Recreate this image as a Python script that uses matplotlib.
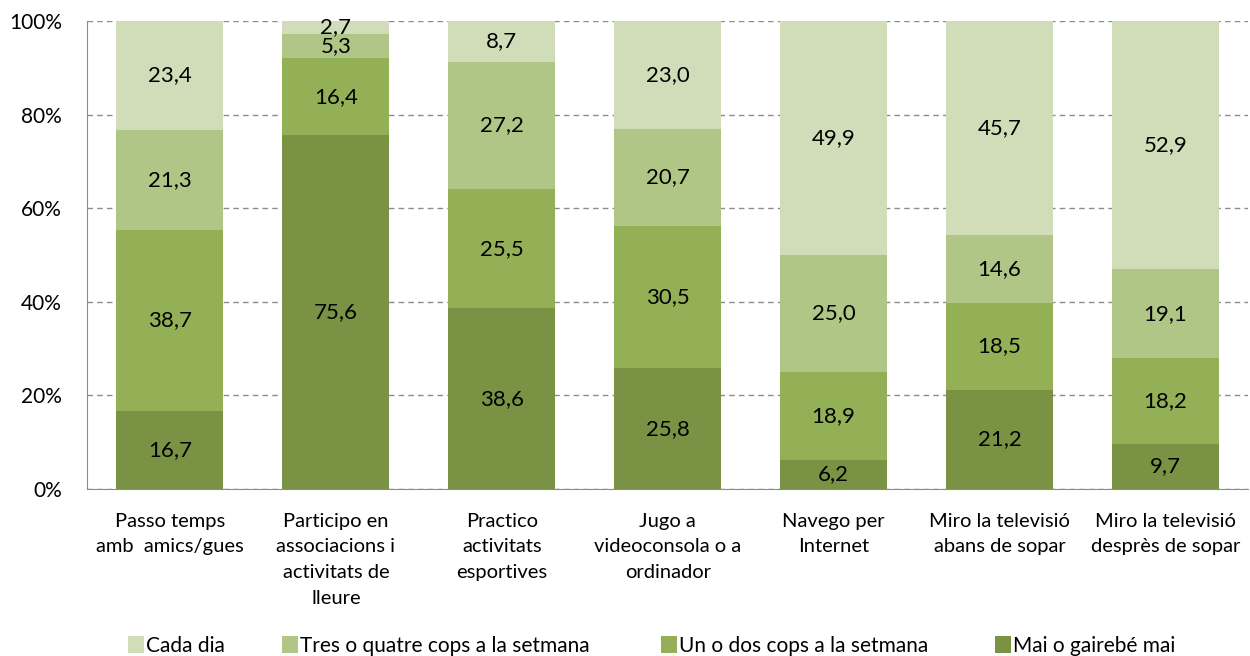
import matplotlib
matplotlib.use("Agg")
import matplotlib.pyplot as plt
import numpy as np

categories = ["Passo temps\namb  amics/gues",
              "Participo en\nassociacions i\nactivitats de\nlleure",
              "Practico\nactivitats\nesportives",
              "Jugo a\nvideoconsola o a\nordinador",
              "Navego per\nInternet",
              "Miro la televisió\nabans de sopar",
              "Miro la televisió\ndesprès de sopar"]

# stacked bottom -> top
mai = [16.7, 75.6, 38.6, 25.8, 6.2, 21.2, 9.7]
un_dos = [38.7, 16.4, 25.5, 30.5, 18.9, 18.5, 18.2]
tres_quatre = [21.3, 5.3, 27.2, 20.7, 25.0, 14.6, 19.1]
cada_dia = [23.4, 2.7, 8.7, 23.0, 49.9, 45.7, 52.9]

series = [("Mai o gairebé mai", mai, "#7a9244"),
          ("Un o dos cops a la setmana", un_dos, "#93b056"),
          ("Tres o quatre cops a la setmana", tres_quatre, "#afc686"),
          ("Cada dia", cada_dia, "#d0ddb8")]

plt.rcParams["font.family"] = ["Lato", "DejaVu Sans"]
plt.rcParams["font.size"] = 15

fig = plt.figure(figsize=(12.5, 6.56), dpi=100)
ax = fig.add_axes([0.0696, 0.2546, 0.929, 0.7134])

x = np.arange(len(categories))
bottom = np.zeros(len(categories))
handles = {}
for name, vals, col in series:
    vals = np.array(vals)
    bars = ax.bar(x, vals, 0.645, bottom=bottom, color=col, label=name, zorder=2)
    handles[name] = bars
    for xi, b, v in zip(x, bottom, vals):
        ax.text(xi, b + v / 2, f"{v:.1f}".replace(".", ","), ha="center", va="center",
                fontsize=16, color="black", zorder=3)
    bottom += vals

ax.set_xlim(-0.5, len(categories) - 0.5)
ax.set_ylim(0, 100)
ax.set_yticks([0, 20, 40, 60, 80, 100])
ax.set_yticklabels([f"{t}%" for t in [0, 20, 40, 60, 80, 100]], fontsize=15)
ax.yaxis.grid(True, linestyle=(0, (4, 3)), color="#8c8c8c", linewidth=1, zorder=0)
ax.set_xticks(x)
ax.set_xticklabels(categories, linespacing=1.62, fontsize=14.5)
ax.tick_params(axis="x", length=0, pad=17)
ax.tick_params(axis="y", length=0, pad=18)
for s in ["top", "right"]:
    ax.spines[s].set_visible(False)
ax.spines["left"].set_color("#8c8c8c")
ax.spines["bottom"].set_color("#8c8c8c")

# legend entries placed one by one (Excel-like spacing)
order = ["Cada dia", "Tres o quatre cops a la setmana", "Un o dos cops a la setmana", "Mai o gairebé mai"]
leg_x = [128, 282, 661, 995]
for n, lx in zip(order, leg_x):
    lg = fig.legend([handles[n]], [n], loc="center left", bbox_to_anchor=(lx / 1250, 0.016),
                    frameon=False, handlelength=0.75, handleheight=0.85, handletextpad=0.12,
                    borderpad=0, borderaxespad=0, fontsize=15)

fig.savefig("out.png", dpi=100)
